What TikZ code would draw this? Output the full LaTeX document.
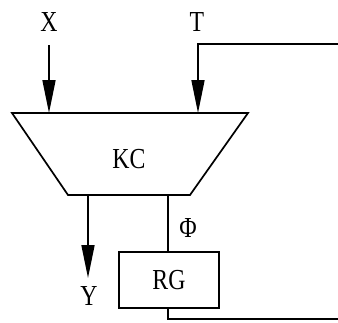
\documentclass[tikz,border=0pt]{standalone}
\usepackage{fontspec}
\setmainfont{Liberation Serif}
\newfontfamily\lblfont[FakeStretch=0.82]{Liberation Serif}
\usetikzlibrary{arrows.meta}
\begin{document}
\begin{tikzpicture}[x=1pt,y=-1pt,
  wire/.style={line width=1.7pt, black},
  arr/.style={wire, -{Triangle[length=33pt,width=13pt]}},
  lbl/.style={font=\lblfont\fontsize{29}{29}\selectfont, inner sep=0pt},
  blk/.style={draw, line width=1.7pt, minimum width=100pt, minimum height=56pt, inner sep=0pt, font=\lblfont\fontsize{29}{29}\selectfont}]
\useasboundingbox (0,0) rectangle (338,322);
% trapezoid KC
\coordinate (tl) at (12,113);
\coordinate (tr) at (248,113);
\coordinate (br) at (190,195);
\coordinate (bl) at (68,195);
\draw[wire, line join=miter] (tl) -- (tr) -- (br) -- (bl) -- cycle;
\node[lbl] (kc) at (129,159) {KC};
% inputs
\node[lbl] (x) at (49,22) {X};
\node[lbl] (t) at (197,22) {T};
\coordinate (xs) at (49,45);
\coordinate (xe) at (49,113);
\draw[arr] (xs) -- (xe);
\coordinate (tin) at (338,44);
\coordinate (tc) at (198,44);
\coordinate (te) at (198,113);
\draw[arr] (tin) -- (tc) -- (te);
% output Y
\coordinate (ys) at (88,195);
\coordinate (ye) at (88,278);
\draw[arr] (ys) -- (ye);
\node[lbl] (y) at (89,296) {Y};
% RG
\node[blk] (rg) at (169,280) {RG};
\coordinate (ps) at (168,195);
\draw[wire] (ps) -- (rg.north -| ps);
\node[lbl] (phi) at (188,228) {Φ};
\coordinate (rb) at (168,319);
\coordinate (rout) at (338,319);
\draw[wire] (rg.south -| rb) -- (rb) -- (rout);
\end{tikzpicture}
\end{document}
